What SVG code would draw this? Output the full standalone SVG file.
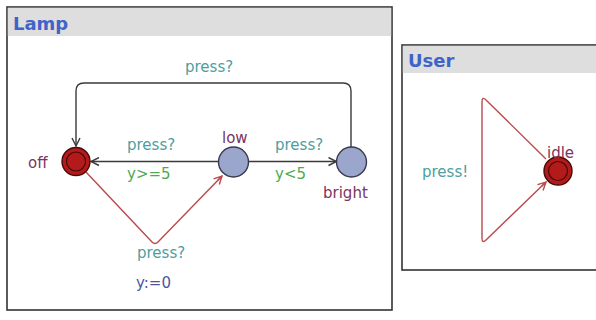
<svg xmlns="http://www.w3.org/2000/svg" width="596" height="320" viewBox="0 0 596 320">
<style>
text{font-family:"DejaVu Sans","Liberation Sans",sans-serif;font-size:15px}
.title{font-weight:bold;font-size:18px;fill:#3f63c8}
.panel{fill:#fff;stroke:#333;stroke-width:1.6}
.head{fill:#dedede}
.sync{fill:#4e9e9e}
.guard{fill:#4faa4f}
.assign{fill:#4c56a0}
.name{fill:#7a3560}
.init{fill:#b31b1b;stroke:#4a0808;stroke-width:1.4}
.inner{fill:none;stroke:#4a0808;stroke-width:1.2}
.loc{fill:#9ba6cc;stroke:#3a3a4c;stroke-width:1.4}
.e{fill:none;stroke:#3a3a3a;stroke-width:1.4}
.er{fill:none;stroke:#bb4a4a;stroke-width:1.4}
</style>
<defs>
<marker id="ad" viewBox="0 0 10 10" refX="9" refY="5" markerWidth="10" markerHeight="10" markerUnits="userSpaceOnUse" orient="auto"><path d="M1,1 L9,5 L1,9" fill="none" stroke="#3a3a3a" stroke-width="1.4"/></marker>
<marker id="ar" viewBox="0 0 10 10" refX="9" refY="5" markerWidth="10" markerHeight="10" markerUnits="userSpaceOnUse" orient="auto"><path d="M1,1 L9,5 L1,9 M3,5 L9,5" fill="none" stroke="#bb4a4a" stroke-width="1.4"/></marker>
</defs>
<g id="lamp-panel">
<rect class="panel" x="7" y="7" width="385" height="303"/>
<rect class="head" x="7.8" y="7.8" width="383.4" height="28.2"/>
<text class="title" x="13" y="30">Lamp</text>
</g>
<g id="user-panel">
<rect class="panel" x="402" y="45" width="200" height="225"/>
<rect class="head" x="402.8" y="45.8" width="198.4" height="27.2"/>
<text class="title" x="408" y="67">User</text>
</g>
<g id="connectors">
<path class="e" d="M351,147 L351,91 Q351,83 343,83 L84,83 Q76,83 76,91 L76,146" marker-end="url(#ad)"/>
<path class="e" d="M218,161.5 L91,161.5" marker-end="url(#ad)"/>
<path class="e" d="M248,161.5 L336.5,161.5" marker-end="url(#ad)"/>
<path class="er" d="M86,172 L152,242 Q155,245 158,242 L222,176" marker-end="url(#ar)"/>
<path class="er" d="M546,159 L486,100 Q482,96 482,102 L482,238 Q482,244 486,240 L546,182" marker-end="url(#ar)"/>
<text class="sync" x="185" y="72">press?</text>
<text class="sync" x="127" y="150">press?</text>
<text class="guard" x="127" y="179">y&gt;=5</text>
<text class="sync" x="275" y="150">press?</text>
<text class="guard" x="275" y="179">y&lt;5</text>
<text class="sync" x="137" y="258">press?</text>
<text class="assign" x="136" y="288">y:=0</text>
<text class="sync" x="422" y="177">press!</text>
</g>
<g id="off">
<circle class="init" cx="76" cy="161.5" r="14"/>
<circle class="inner" cx="76" cy="161.5" r="9.5"/>
<text class="name" x="28" y="168">off</text>
</g>
<g id="low">
<circle class="loc" cx="233.5" cy="162" r="15"/>
<text class="name" x="222" y="143">low</text>
</g>
<g id="bright">
<circle class="loc" cx="351.5" cy="162" r="15"/>
<text class="name" x="323" y="198">bright</text>
</g>
<g id="idle">
<circle class="init" cx="558" cy="171" r="14"/>
<circle class="inner" cx="558" cy="171" r="9.5"/>
<text class="name" x="547" y="158">idle</text>
</g>
</svg>
